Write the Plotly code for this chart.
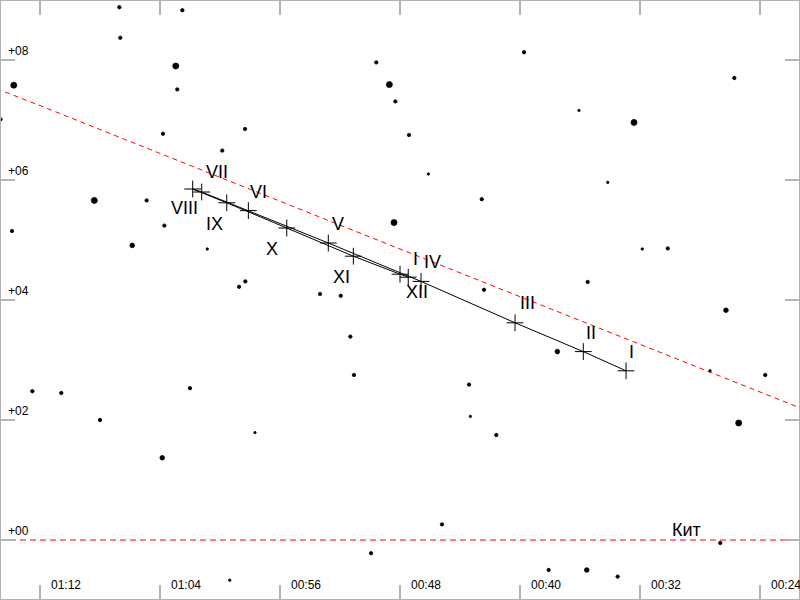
import plotly.graph_objects as go

# ---------------- data ----------------
# axis ticks (RA in minutes of time, Dec in degrees)
ra_ticks = [72, 64, 56, 48, 40, 32, 24]
ra_labels = ["01:12", "01:04", "00:56", "00:48", "00:40", "00:32", "00:24"]
dec_ticks = [8, 6, 4, 2, 0]
dec_labels = ["+08", "+06", "+04", "+02", "+00"]

# path of the body, month by month
months = ["I", "II", "III", "IV", "V", "VI", "VII", "VIII", "IX", "X", "XI", "XII", "I"]
path_ra = [32.93, 35.78, 40.33, 46.60, 52.78, 58.11, 61.22, 61.82, 59.55, 55.55, 51.11, 48.00, 47.45]
path_dec = [2.82, 3.14, 3.62, 4.31, 4.95, 5.49, 5.80, 5.85, 5.62, 5.20, 4.73, 4.43, 4.38]

# ecliptic
ecl_ra = [76, 72, 48, 24, 20]
ecl_dec = [7.63, 7.24, 4.85, 2.47, 2.07]

# celestial equator
equ_ra = [76, 20]
equ_dec = [0, 0]

constellation = "Кит"
const_ra, const_dec = 28.93, 0.17

# background stars: RA (min), Dec (deg), brightness class (1 bright .. 4 faint)
star_ra = [66.71, 62.51, 66.65, 62.95, 73.75, 62.85, 74.63, 63.80, 58.33, 59.85,
           49.58, 48.71, 48.31, 68.38, 64.89, 73.87, 63.71, 65.85, 60.85, 48.40,
           58.31, 58.73, 53.33, 51.95, 39.73, 25.71, 36.07, 32.40, 47.40, 46.11,
           42.55, 34.15, 31.85, 30.15, 35.49, 42.40, 72.51, 70.58, 68.00, 63.85,
           62.00, 57.67, 51.31, 51.07, 49.93, 59.35, 26.27, 37.51, 43.40, 43.31,
           41.58, 27.33, 23.65, 25.42, 45.20, 26.65, 38.09, 35.55, 33.49]
star_dec = [8.88, 8.83, 8.37, 7.90, 7.58, 7.51, 7.01, 6.77, 6.85, 6.49,
            7.96, 7.59, 7.31, 5.66, 5.66, 5.15, 5.24, 4.91, 4.85, 5.29,
            4.31, 4.22, 4.10, 4.07, 8.13, 7.70, 7.16, 6.96, 6.75, 6.10,
            5.68, 5.96, 4.85, 4.86, 4.30, 4.17, 2.48, 2.45, 2.00, 1.37,
            2.53, 1.79, 3.39, 2.75, -0.22, -0.67, 3.83, 3.14, 2.59, 2.06,
            1.75, 2.82, 2.75, 1.95, 0.26, -0.05, -0.50, -0.50, -0.61]
star_class = [3, 3, 3, 1, 1, 3, 3, 3, 3, 3,
              3, 1, 3, 1, 3, 3, 3, 2, 4, 1,
              3, 3, 3, 3, 3, 3, 4, 1, 3, 4,
              3, 4, 4, 3, 3, 3, 3, 3, 3, 2,
              3, 4, 3, 3, 3, 4, 2, 2, 3, 4,
              3, 4, 3, 1, 3, 3, 3, 2, 3]

# ---------------- style ----------------
FONT = "Liberation Sans, Arial, Helvetica, sans-serif"
size_of_class = {1: 6.0, 2: 4.6, 3: 3.4, 4: 2.4}
# label offsets (px) relative to each path point: forward above, retrograde below
label_dx = [5, 8, 12, 11, 10, 10, 15, -8, -12, -15, -12, 17, 7]
label_dy = [19, 19, 20, 19, 19, 19, 20, -19, -21, -21, -21, -18, 18]

fig = go.Figure()

fig.add_trace(go.Scatter(x=equ_ra, y=equ_dec, mode="lines",
                         line=dict(color="#ff0000", width=1, dash="6px,4px"),
                         hoverinfo="skip", showlegend=False))
fig.add_trace(go.Scatter(x=ecl_ra, y=ecl_dec, mode="lines",
                         line=dict(color="#ff0000", width=1, dash="5px,4px"),
                         hoverinfo="skip", showlegend=False))

fig.add_trace(go.Scatter(x=star_ra, y=star_dec, mode="markers",
                         marker=dict(color="black", opacity=1,
                                     size=[size_of_class[c] for c in star_class],
                                     line=dict(width=0.8, color="black")),
                         hoverinfo="skip", showlegend=False))

fig.add_trace(go.Scatter(x=path_ra, y=path_dec, mode="lines+markers",
                         line=dict(color="black", width=1),
                         marker=dict(symbol="cross-thin", size=12,
                                     line=dict(color="black", width=1)),
                         hoverinfo="skip", showlegend=False))

annotations = []
for m, xr, yd, dx, dy in zip(months, path_ra, path_dec, label_dx, label_dy):
    annotations.append(dict(x=xr, y=yd, xref="x", yref="y", text=m, showarrow=False,
                            xanchor="center", yanchor="middle", xshift=dx, yshift=dy,
                            font=dict(family=FONT, size=18, color="black")))

annotations.append(dict(x=const_ra, y=const_dec, xref="x", yref="y", text=constellation,
                        showarrow=False, xanchor="center", yanchor="middle",
                        font=dict(family=FONT, size=18, color="black")))

for v, t in zip(ra_ticks, ra_labels):
    annotations.append(dict(x=v, y=0, xref="x", yref="paper", text=t, showarrow=False,
                            xanchor="left", yanchor="middle", xshift=9, yshift=15,
                            font=dict(family=FONT, size=12, color="black")))
for v, t in zip(dec_ticks, dec_labels):
    annotations.append(dict(x=0, y=v, xref="paper", yref="y", text=t, showarrow=False,
                            xanchor="left", yanchor="middle", xshift=6, yshift=9,
                            font=dict(family=FONT, size=12, color="black")))

axis_common = dict(showgrid=False, zeroline=False, showticklabels=False,
                   ticks="inside", ticklen=15, tickwidth=2, tickcolor="#b4b4b4",
                   mirror="ticks", showline=False)

fig.update_layout(
    width=800, height=600,
    margin=dict(l=0, r=0, t=0, b=0),
    paper_bgcolor="white", plot_bgcolor="white",
    xaxis=dict(range=[74.6667, 21.3333], tickmode="array", tickvals=ra_ticks, **axis_common),
    yaxis=dict(range=[-1, 9], tickmode="array", tickvals=dec_ticks, **axis_common),
    annotations=annotations,
    shapes=[dict(type="rect", xref="paper", yref="paper", x0=0, x1=1, y0=0, y1=1,
                 line=dict(color="#b0b0b0", width=2), layer="above")],
)

fig.write_html("out.html", config={"displayModeBar": False},
               post_script="document.body.style.margin='0';document.body.style.overflow='hidden';")
